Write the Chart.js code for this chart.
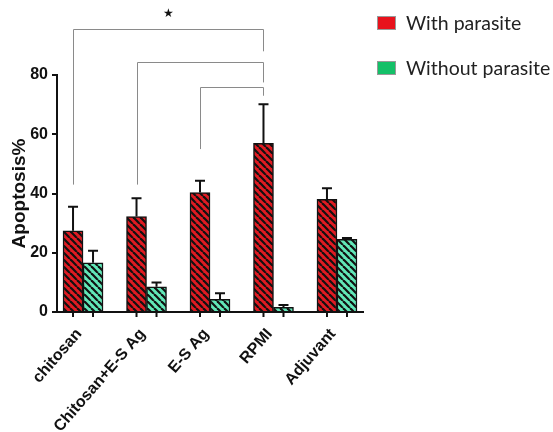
<!DOCTYPE html>
<html lang="en">
<head>
    <meta charset="UTF-8">
    <title>Apoptosis</title>
    <script src="https://cdn.jsdelivr.net/npm/chart.js"></script>
    <style>
        body {
            margin: 0;
            background: #fff;
        }
        #wrap {
            position: relative;
            width: 553px;
            height: 432px;
        }
        .legend-item {
            position: absolute;
            left: 377px;
            font-family: 'Lato', sans-serif;
            font-size: 19.5px;
            color: #222;
            display: flex;
            align-items: center;
            white-space: nowrap;
        }
        .legend-item span.box {
            display: inline-block;
            width: 17px;
            height: 12px;
            margin-right: 10px;
            border: 1px solid #999;
        }
    </style>
</head>
<body>
<div id="wrap">
    <canvas id="chart" width="553" height="432"></canvas>
    <div class="legend-item" style="top:11px"><span class="box" style="background:#e8121c"></span>With parasite</div>
    <div class="legend-item" style="top:56px"><span class="box" style="background:#14c068"></span>Without parasite</div>
</div>

<script>
    // data
    const categories = ['chitosan', 'Chitosan+E-S Ag', 'E-S Ag', 'RPMI', 'Adjuvant'];
    const withParasite = [27.4, 32.2, 40.3, 56.9, 38.0];
    const withParasiteSD = [8.1, 6.2, 4.0, 13.2, 3.8];
    const withoutParasite = [16.6, 8.5, 4.3, 1.6, 24.5];
    const withoutParasiteSD = [4.1, 1.5, 2.0, 0.8, 0.5];
    const yTicks = [0, 20, 40, 60, 80];

    // significance brackets: [from category, to category, top, left leg end, right leg end]
    const brackets = [
        [0, 3, 95.5, 43, 88],
        [1, 3, 84.5, 43, 77.5],
        [2, 3, 76, 55, 73]
    ];

    function hatch(bg) {
        const c = document.createElement('canvas');
        const s = 7;
        c.width = s; c.height = s;
        const g = c.getContext('2d');
        g.fillStyle = bg;
        g.fillRect(0, 0, s, s);
        g.strokeStyle = '#111';
        g.lineWidth = 2.2;
        [-s, 0, s].forEach(o => {
            g.beginPath();
            g.moveTo(o, 0);
            g.lineTo(o + s, s);
            g.stroke();
        });
        return g.createPattern(c, 'repeat');
    }

    const extras = {
        id: 'extras',
        afterDatasetsDraw(chart) {
            const ctx = chart.ctx;
            const y = chart.scales.y;
            const sds = [withParasiteSD, withoutParasiteSD];
            ctx.save();
            // error bars (upper only)
            ctx.strokeStyle = '#111';
            ctx.lineWidth = 2;
            chart.data.datasets.forEach((ds, d) => {
                chart.getDatasetMeta(d).data.forEach((bar, i) => {
                    const v = ds.data[i].y;
                    const top = y.getPixelForValue(v + sds[d][i]);
                    ctx.beginPath();
                    ctx.moveTo(bar.x, bar.y);
                    ctx.lineTo(bar.x, top);
                    ctx.moveTo(bar.x - 5, top);
                    ctx.lineTo(bar.x + 5, top);
                    ctx.stroke();
                    // tick mark under each bar
                    ctx.beginPath();
                    ctx.moveTo(bar.x, y.bottom);
                    ctx.lineTo(bar.x, y.bottom + 5);
                    ctx.stroke();
                });
            });
            // brackets
            const red = chart.getDatasetMeta(0).data;
            ctx.strokeStyle = '#8a8a8a';
            ctx.lineWidth = 1;
            brackets.forEach(b => {
                const x1 = Math.round(red[b[0]].x) + 0.5;
                const x2 = Math.round(red[b[1]].x) + 0.5;
                const yt = Math.round(y.getPixelForValue(b[2])) + 0.5;
                ctx.beginPath();
                ctx.moveTo(x1, y.getPixelForValue(b[3]));
                ctx.lineTo(x1, yt);
                ctx.lineTo(x2, yt);
                ctx.lineTo(x2, y.getPixelForValue(b[4]));
                ctx.stroke();
            });
            // star over the outer bracket
            const ob = brackets[0];
            ctx.fillStyle = '#111';
            ctx.font = '12px "DejaVu Sans"';
            ctx.textAlign = 'center';
            ctx.textBaseline = 'middle';
            ctx.fillText('\u2605', (red[ob[0]].x + red[ob[1]].x) / 2, y.getPixelForValue(ob[2] + 5));
            ctx.restore();
        }
    };

    new Chart(document.getElementById('chart'), {
        type: 'bar',
        data: {
            datasets: [{
                label: 'With parasite',
                data: withParasite.map((v, i) => ({ x: i, y: v })),
                backgroundColor: hatch('#e01b22'),
                borderColor: '#111',
                borderWidth: 1.5,
                barThickness: 20
            }, {
                label: 'Without parasite',
                data: withoutParasite.map((v, i) => ({ x: i, y: v })),
                backgroundColor: hatch('#62e8b8'),
                borderColor: '#111',
                borderWidth: 1.5,
                barThickness: 20
            }]
        },
        options: {
            responsive: false,
            animation: false,
            layout: { padding: { top: 75, right: 190, left: 0, bottom: 0 } },
            plugins: {
                legend: { display: false },
                tooltip: { enabled: false }
            },
            scales: {
                x: {
                    type: 'linear',
                    offset: false,
                    min: -0.41,
                    max: 4.41,
                    afterBuildTicks: s => { s.ticks = categories.map((c, i) => ({ value: i })); },
                    afterFit: s => { s.height = 120; },
                    grid: { display: false, offset: false },
                    border: { color: '#111', width: 2 },
                    ticks: {
                        autoSkip: false,
                        minRotation: 49,
                        maxRotation: 49,
                        padding: 5,
                        labelOffset: -4,
                        color: '#111',
                        font: { family: 'Arial, "Liberation Sans"', size: 16, weight: 'bold' },
                        callback: v => categories[v]
                    }
                },
                y: {
                    min: 0,
                    max: 80,
                    afterBuildTicks: s => { s.ticks = yTicks.map(v => ({ value: v })); },
                    afterFit: s => { s.width = 57; },
                    grid: { drawOnChartArea: false, tickLength: 5, color: '#111', lineWidth: 2 },
                    border: { color: '#111', width: 2 },
                    ticks: {
                        padding: 4,
                        color: '#111',
                        font: { family: 'Arial, "Liberation Sans"', size: 16, weight: 'bold' }
                    },
                    title: {
                        display: true,
                        text: 'Apoptosis%',
                        color: '#111',
                        padding: { top: 8, bottom: 0 },
                        font: { family: 'Arial, "Liberation Sans"', size: 19, weight: 'bold' }
                    }
                }
            }
        },
        plugins: [extras]
    });
</script>
</body>
</html>
